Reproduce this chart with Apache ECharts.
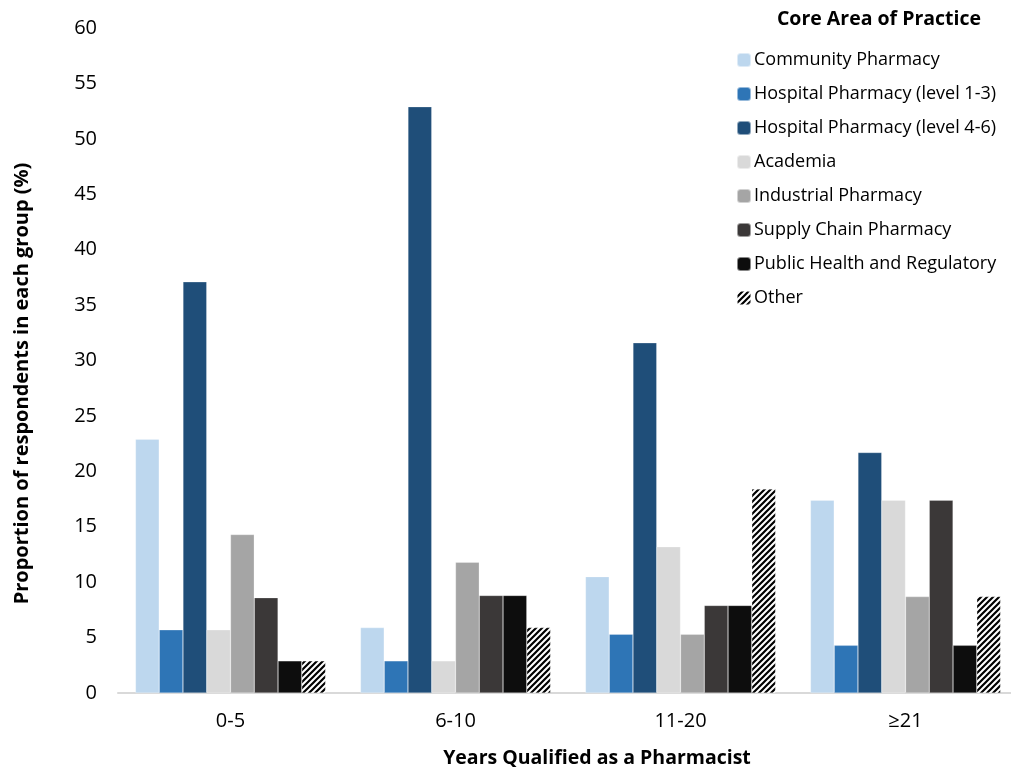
<!DOCTYPE html>
<html><head><meta charset="utf-8">
<script src="https://cdn.jsdelivr.net/npm/echarts@6/dist/echarts.min.js"></script>
<style>html,body{margin:0;padding:0;background:#fff}#c{width:1011px;height:772px}</style>
</head><body><div id="c"></div>
<script>
const categories = ['0-5', '6-10', '11-20', '≥21'];
const seriesNames = ['Community Pharmacy', 'Hospital Pharmacy (level 1-3)', 'Hospital Pharmacy (level 4-6)', 'Academia', 'Industrial Pharmacy', 'Supply Chain Pharmacy', 'Public Health and Regulatory', 'Other'];
const community = [22.9, 5.9, 10.5, 17.4];
const hospital13 = [5.7, 2.9, 5.3, 4.3];
const hospital46 = [37.1, 52.9, 31.6, 21.7];
const academia = [5.7, 2.9, 13.2, 17.4];
const industrial = [14.3, 11.8, 5.3, 8.7];
const supplyChain = [8.6, 8.8, 7.9, 17.4];
const publicHealth = [2.9, 8.8, 7.9, 4.3];
const other = [2.9, 5.9, 18.4, 8.7];
const yTicks = [0, 5, 10, 15, 20, 25, 30, 35, 40, 45, 50, 55, 60];

const values = [community, hospital13, hospital46, academia, industrial, supplyChain, publicHealth, other];

function hatch() {
  const c = document.createElement('canvas');
  const s = 6;
  c.width = s; c.height = s;
  const g = c.getContext('2d');
  g.fillStyle = '#fff'; g.fillRect(0, 0, s, s);
  g.strokeStyle = '#000'; g.lineWidth = 2.2;
  g.beginPath();
  g.moveTo(-1, s + 1); g.lineTo(s + 1, -1);
  g.moveTo(-1, 1); g.lineTo(1, -1);
  g.moveTo(s - 1, s + 1); g.lineTo(s + 1, s - 1);
  g.stroke();
  return c;
}
const colors = ['#BDD7EE', '#2E75B6', '#1F4E79', '#D9D9D9', '#A5A5A5', '#3B3838', '#0D0D0D', {image: hatch(), repeat: 'repeat'}];

const font = "'Open Sans', 'Liberation Sans', sans-serif";
const chart = echarts.init(document.getElementById('c'), null, {renderer: 'canvas'});
chart.setOption({
  animation: false,
  textStyle: {fontFamily: font},
  title: {
    text: 'Core Area of Practice', left: 874, top: 4, textAlign: 'center',
    textStyle: {fontFamily: font, fontSize: 19.5, fontWeight: 'bold', color: '#000'}
  },
  legend: {
    orient: 'vertical', left: 731, top: 46,
    itemWidth: 14, itemHeight: 14, itemGap: 16,
    textStyle: {fontFamily: font, fontSize: 18, color: '#000', padding: [0, 0, 0, -2]},
    data: seriesNames
  },
  grid: {left: 118, right: -7, top: 28, bottom: 79, containLabel: false, outerBoundsMode: 'none'},
  xAxis: {
    type: 'category', data: categories,
    name: 'Years Qualified as a Pharmacist', nameLocation: 'middle', nameGap: 55,
    nameTextStyle: {fontFamily: font, fontSize: 19.5, fontWeight: 'bold', color: '#000', padding: [0, 0, 0, 58]},
    axisLine: {lineStyle: {color: '#D9D9D9', width: 2}},
    axisTick: {show: false},
    axisLabel: {fontFamily: font, fontSize: 20, color: '#000', margin: 18}
  },
  yAxis: {
    type: 'value', min: 0, max: 60, interval: 5,
    name: 'Proportion of respondents in each group (%)', nameLocation: 'middle', nameGap: 86,
    nameTextStyle: {fontFamily: font, fontSize: 20, fontWeight: 'bold', color: '#000', padding: [0, 46, 0, 0]},
    axisLine: {show: false}, axisTick: {show: false}, splitLine: {show: false},
    axisLabel: {fontFamily: font, fontSize: 20, color: '#000', margin: 21,
      formatter: v => yTicks.includes(v) ? String(v) : ''}
  },
  series: seriesNames.map((n, i) => ({
    name: n, type: 'bar', data: values[i],
    barGap: '0%', barCategoryGap: '15.5%',
    itemStyle: {color: colors[i], borderColor: 'rgba(255,255,255,0.5)', borderWidth: 0.5}
  }))
});
</script></body></html>
